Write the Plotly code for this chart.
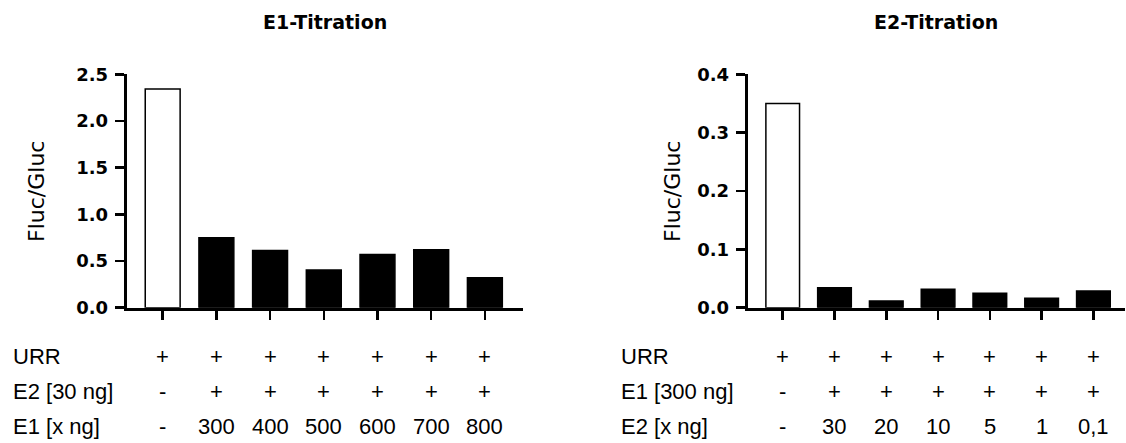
import plotly.graph_objects as go

# ---- data ----
e1_categories = ["-", "300", "400", "500", "600", "700", "800"]
e1_values = [2.343, 0.75, 0.614, 0.404, 0.571, 0.621, 0.321]
e1_row_labels = ["URR", "E2 [30 ng]", "E1 [x ng]"]
e1_rows = [
    ["+", "+", "+", "+", "+", "+", "+"],
    ["-", "+", "+", "+", "+", "+", "+"],
    ["-", "300", "400", "500", "600", "700", "800"],
]

e2_categories = ["-", "30", "20", "10", "5", "1", "0,1"]
e2_values = [0.350, 0.034, 0.0115, 0.0316, 0.0247, 0.016, 0.0287]
e2_row_labels = ["URR", "E1 [300 ng]", "E2 [x ng]"]
e2_rows = [
    ["+", "+", "+", "+", "+", "+", "+"],
    ["-", "+", "+", "+", "+", "+", "+"],
    ["-", "30", "20", "10", "5", "1", "0,1"],
]

titles = ["E1-Titration", "E2-Titration"]
y_title = "Fluc/Gluc"

W, H = 1126, 443
FONT = "Liberation Sans, Arial, sans-serif"
WIDE = "DejaVu Sans, sans-serif"

fig = go.Figure()

bar_colors = ["white"] + ["black"] * 6

fig.add_trace(go.Bar(x=e1_categories, y=e1_values, xaxis="x", yaxis="y",
                     marker=dict(color=bar_colors, line=dict(color="black", width=1.5)),
                     width=0.65, showlegend=False, hoverinfo="skip"))
fig.add_trace(go.Bar(x=e2_categories, y=e2_values, xaxis="x2", yaxis="y2",
                     marker=dict(color=bar_colors, line=dict(color="black", width=1.5)),
                     width=0.65, showlegend=False, hoverinfo="skip"))

ybot = 1 - 307.7 / H
ytop = 1 - 74.3 / H

axis_common = dict(showline=True, linecolor="black", linewidth=3, showgrid=False,
                   zeroline=False, ticks="outside", ticklen=9, tickwidth=2.5,
                   tickcolor="black", automargin=False)
tickfont = dict(size=18, family=WIDE, weight="bold", color="black")

fig.update_layout(
    template="none",
    width=W, height=H,
    margin=dict(l=0, r=0, t=0, b=0, pad=0),
    paper_bgcolor="white", plot_bgcolor="white",
    font=dict(family=FONT, color="black"),
    xaxis=dict(domain=[126.7 / W, 523 / W], range=[-0.67, 6.71], type="category",
               showticklabels=False, anchor="y", **axis_common),
    yaxis=dict(domain=[ybot, ytop], range=[0, 2.5], tickvals=[0, 0.5, 1.0, 1.5, 2.0, 2.5],
               tickformat=".1f", anchor="x", ticklabelstandoff=3,
               tickfont=tickfont, **axis_common),
    xaxis2=dict(domain=[747.7 / W, 1125 / W], range=[-0.676, 6.61], type="category",
                showticklabels=False, anchor="y2", **axis_common),
    yaxis2=dict(domain=[ybot, ytop], range=[0, 0.4], tickvals=[0, 0.1, 0.2, 0.3, 0.4],
                tickformat=".1f", anchor="x2", ticklabelstandoff=3,
                tickfont=tickfont, **axis_common),
)

annotations = []
# titles
for cx, t in zip([(126.7 + 523) / 2 / W, (747.7 + 1125) / 2 / W], titles):
    annotations.append(dict(text=t, x=cx, y=1 - 22 / H, xref="paper", yref="paper",
                            showarrow=False, xanchor="center", yanchor="middle",
                            font=dict(size=19, family=WIDE, weight="bold")))
# y titles
for cx in [36 / W, 672 / W]:
    annotations.append(dict(text=y_title, x=cx, y=1 - 192 / H, xref="paper", yref="paper",
                            showarrow=False, textangle=-90, xanchor="center", yanchor="middle",
                            font=dict(size=22, family=WIDE)))

row_y = [356, 391, 426]
for xref, cats, labels, rows, lx in [("x", e1_categories, e1_row_labels, e1_rows, 11),
                                      ("x2", e2_categories, e2_row_labels, e2_rows, 619)]:
    for ry, lab, row in zip(row_y, labels, rows):
        annotations.append(dict(text=lab, x=lx / W, y=1 - ry / H, xref="paper", yref="paper",
                                showarrow=False, xanchor="left", yanchor="middle",
                                font=dict(size=22, family=FONT)))
        for i, v in enumerate(row):
            # position on the category axis by category index
            annotations.append(dict(text=v, x=i, y=1 - ry / H, xref=xref, yref="paper",
                                    showarrow=False, xanchor="center", yanchor="middle",
                                    font=dict(size=22, family=FONT)))

fig.update_layout(annotations=annotations)

fig.write_html("out.html", config={"displayModeBar": False, "staticPlot": True},
               post_script="document.body.style.margin='0';document.body.style.overflow='hidden';")
